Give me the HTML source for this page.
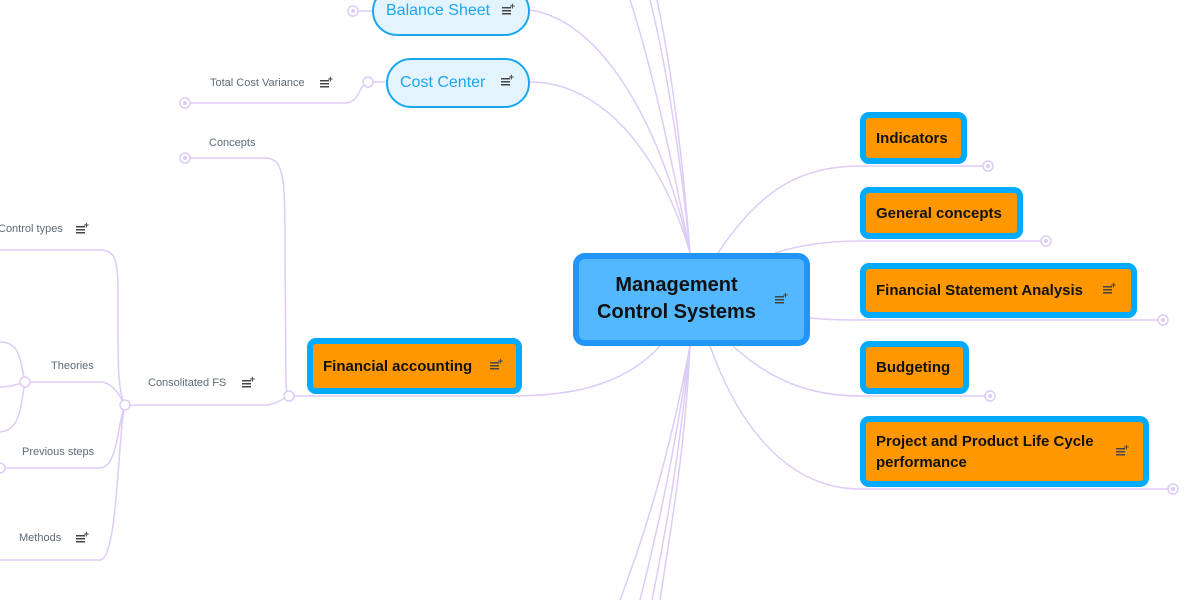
<!DOCTYPE html>
<html><head><meta charset="utf-8"><style>
body{margin:0;width:1200px;height:600px;overflow:hidden;background:#fff;position:relative;font-family:"Liberation Sans",sans-serif}
.o{position:absolute;box-sizing:border-box;background:#ff9800;border:6px solid #00aaff;border-radius:9px;font-weight:bold;font-size:15px;color:#111;padding:0 10px;display:flex;align-items:center;white-space:nowrap}
.p{position:absolute;box-sizing:border-box;background:#e3f4fe;border:2px solid #1aa7f0;border-radius:26px;color:#1aa7f0;font-size:16px;display:flex;align-items:center;padding-left:12px}
.t{position:absolute;font-size:11px;color:#5f6b78}
.ic{position:absolute;width:9px;height:8px;background:repeating-linear-gradient(#444 0 1.5px,transparent 1.5px 3px)}
.ic:after{content:"+";position:absolute;right:-4px;top:-6px;font-size:9px;font-weight:bold;color:#444}
</style></head><body>
<svg width="1200" height="600" style="position:absolute;left:0;top:0" fill="none" stroke="#ddccf5" stroke-width="1.5">
<path d="M690 253 C670 150 650 60 630 0"/>
<path d="M690 253 C680 150 665 60 650 0"/>
<path d="M690 253 C682 150 670 60 657 0"/>
<path d="M690 253 C660 120 600 20 530 10"/>
<path d="M690 253 C660 150 600 82 530 82"/>
<path d="M690 346 C670 450 650 520 620 600"/>
<path d="M690 346 C675 450 660 520 640 600"/>
<path d="M690 346 C680 450 668 520 652 600"/>
<path d="M690 346 C685 450 672 520 660 600"/>
<path d="M660 346 C620 390 560 396 510 396 L289 396"/>
<path d="M718 253 C760 190 800 166 860 166 L988 166"/>
<path d="M775 253 C800 245 830 241 860 241 L1046 241"/>
<path d="M810 318 C830 320 845 320 860 320 L1163 320"/>
<path d="M733 346 C770 380 810 396 860 396 L990 396"/>
<path d="M710 346 C740 430 790 489 860 489 L1173 489"/>
<path d="M185 158 L265 158 C285 158 285 180 285 250 L286 385 Q287 396 289 396"/>
<path d="M289 396 C280 400 275 405 265 405 L125 405"/>
<path d="M125 405 C117 390 118 360 118 290 C118 260 115 250 100 250 L0 250"/>
<path d="M125 405 C117 390 110 382 100 382 L25 382"/>
<path d="M125 405 C118 420 118 468 100 468 L0 468"/>
<path d="M125 405 C118 430 118 560 100 560 L0 560"/>
<path d="M25 382 C20 360 20 342 0 342 M25 382 C15 385 10 387 0 387 M25 382 C20 410 20 430 0 432"/>
<path d="M185 103 L345 103 C360 103 360 82 368 82 L385 82"/>
<path d="M353 11 L372 11"/>
</svg>
<svg width="1200" height="600" style="position:absolute;left:0;top:0" fill="#fff" stroke="#ddccf5" stroke-width="1.5">
<circle cx="289" cy="396" r="5"/><circle cx="125" cy="405" r="5"/><circle cx="25" cy="382" r="5"/><circle cx="368" cy="82" r="5"/>
<g><circle cx="185" cy="158" r="5"/><circle cx="185" cy="103" r="5"/><circle cx="353" cy="11" r="5"/><circle cx="988" cy="166" r="5"/><circle cx="1046" cy="241" r="5"/><circle cx="1163" cy="320" r="5"/><circle cx="990" cy="396" r="5"/><circle cx="1173" cy="489" r="5"/><circle cx="0" cy="468" r="5"/></g>
<g fill="#ddccf5" stroke="none"><circle cx="185" cy="158" r="2"/><circle cx="185" cy="103" r="2"/><circle cx="353" cy="11" r="2"/><circle cx="988" cy="166" r="2"/><circle cx="1046" cy="241" r="2"/><circle cx="1163" cy="320" r="2"/><circle cx="990" cy="396" r="2"/><circle cx="1173" cy="489" r="2"/></g>
</svg>
<div style="position:absolute;left:573px;top:253px;width:237px;height:93px;box-sizing:border-box;background:#54b8ff;border:6px solid #2196f8;border-radius:12px;"></div>
<div style="position:absolute;left:573px;top:272px;width:207px;text-align:center;font-weight:bold;font-size:20px;line-height:27px;color:#111">Management<br>Control Systems</div>
<div class="ic" style="left:775px;top:296px"></div>
<div class="p" style="left:372px;top:-14px;width:158px;height:50px">Balance Sheet</div><div class="ic" style="left:502px;top:7px"></div>
<div class="p" style="left:386px;top:58px;width:144px;height:50px">Cost Center</div><div class="ic" style="left:501px;top:78px"></div>
<div class="t" style="left:210px;top:77px">Total Cost Variance</div><div class="ic" style="left:320px;top:80px"></div>
<div class="t" style="left:209px;top:137px">Concepts</div>
<div class="t" style="left:148px;top:377px">Consolitated FS</div><div class="ic" style="left:242px;top:380px"></div>
<div class="t" style="left:-2px;top:223px">Control types</div><div class="ic" style="left:76px;top:226px"></div>
<div class="t" style="left:51px;top:360px">Theories</div>
<div class="t" style="left:22px;top:446px">Previous steps</div>
<div class="t" style="left:19px;top:532px">Methods</div><div class="ic" style="left:76px;top:535px"></div>
<div class="o" style="left:307px;top:338px;width:215px;height:56px">Financial accounting</div><div class="ic" style="left:490px;top:362px"></div>
<div class="o" style="left:860px;top:112px;width:107px;height:52px">Indicators</div>
<div class="o" style="left:860px;top:187px;width:163px;height:52px">General concepts</div>
<div class="o" style="left:860px;top:263px;width:277px;height:55px">Financial Statement Analysis</div><div class="ic" style="left:1103px;top:286px"></div>
<div class="o" style="left:860px;top:341px;width:109px;height:53px">Budgeting</div>
<div class="o" style="left:860px;top:416px;width:289px;height:71px;line-height:21px;white-space:normal">Project and Product Life Cycle<br>performance</div><div class="ic" style="left:1116px;top:448px"></div>
</body></html>
